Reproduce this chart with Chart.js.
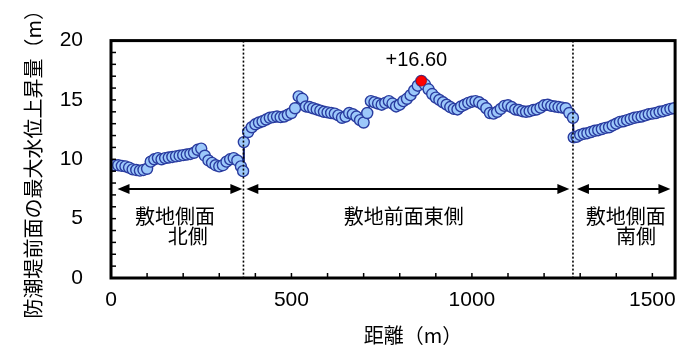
<!DOCTYPE html>
<html>
<head>
<meta charset="utf-8">
<script src="https://cdn.jsdelivr.net/npm/chart.js@4.4.0/dist/chart.umd.min.js"></script>
<style>
  html, body { margin: 0; padding: 0; background: #fff; }
</style>
</head>
<body>
<canvas id="mycanvas" width="682" height="350"></canvas>
<script>
// distance along the seawall (m)
var distances = [
  0, 10, 20, 30, 40, 50, 60, 70, 80, 90, 100, 110, 120, 130, 140, 150, 160, 170, 180, 190,
  200, 210, 220, 230, 240, 250, 260, 270, 280, 290, 300, 310, 320, 330, 340, 350, 360, 366,
  368, 380, 390, 400, 410, 420, 430, 440, 450, 460, 470, 480, 490, 500, 510, 520, 530, 540,
  550, 560, 570, 580, 590, 600, 610, 620, 630, 640, 650, 660, 670, 680, 690, 700, 710, 720,
  730, 740, 750, 760, 770, 780, 790, 800, 810, 820, 830, 840, 850, 860, 870, 880, 890, 900,
  910, 920, 930, 940, 950, 960, 970, 980, 990, 1000, 1010, 1020, 1030, 1040, 1050, 1060,
  1070, 1080, 1090, 1100, 1110, 1120, 1130, 1140, 1150, 1160, 1170, 1180, 1190, 1200, 1210,
  1220, 1230, 1240, 1250, 1260, 1270, 1280, 1282, 1290, 1300, 1310, 1320, 1330, 1340, 1350,
  1360, 1370, 1380, 1390, 1400, 1410, 1420, 1430, 1440, 1450, 1460, 1470, 1480, 1490, 1500,
  1510, 1520, 1530, 1540, 1550, 1560
];
// max water level rise in front of the seawall (m)
var riseValues = [
  9.45, 9.5, 9.5, 9.45, 9.4, 9.3, 9.15, 9.1, 9.05, 9.1, 9.2, 9.8, 10.0, 10.1, 10.0, 10.1, 10.15, 10.2, 10.25, 10.3,
  10.35, 10.4, 10.45, 10.55, 10.8, 10.9, 10.3, 9.9, 9.7, 9.5, 9.4, 9.5, 9.8, 10.0, 10.1, 9.9, 9.4, 9.0,
  11.45, 12.3, 12.7, 12.95, 13.1, 13.2, 13.35, 13.5, 13.55, 13.6, 13.55, 13.6, 13.75, 13.9, 14.3, 15.3, 15.1, 14.45,
  14.4, 14.3, 14.2, 14.1, 14.0, 13.95, 13.9, 13.85, 13.7, 13.5, 13.6, 13.9, 13.8, 13.6, 13.3, 13.1, 13.9, 14.9,
  14.8, 14.7, 14.6, 14.75, 14.9, 14.7, 14.45, 14.6, 14.9, 15.1, 15.4, 15.8, 16.2, 16.6, 16.3, 15.9, 15.5, 15.2,
  15.0, 14.8, 14.6, 14.4, 14.25, 14.2, 14.45, 14.6, 14.75, 14.85, 14.9, 14.8, 14.6, 14.3, 13.9, 13.85,
  14.0, 14.25, 14.5, 14.55, 14.4, 14.2, 14.15, 14.05, 14.0, 14.05, 14.15, 14.2, 14.35, 14.55, 14.6,
  14.5, 14.45, 14.4, 14.35, 14.3, 13.9, 13.5, 11.85, 11.9, 12.05, 12.15, 12.2, 12.3, 12.4, 12.45,
  12.55, 12.65, 12.7, 12.85, 13.0, 13.15, 13.2, 13.3, 13.4, 13.5, 13.55, 13.6, 13.7, 13.8, 13.85,
  13.9, 14.0, 14.05, 14.15, 14.25, 14.3
];
var peakX = [860];
var peakY = [16.6];
var peakLabel = '+16.60';

var xTickValues = [0, 500, 1000, 1500];
var yTickValues = [0, 5, 10, 15, 20];

// section boundaries (m) and section labels
var boundaries = [367, 1280];
var sectionArrows = [[18, 364], [375, 1270], [1291, 1550]];
var sectionLabels = [
  { text: '敷地側面', x: 177, y: 5.15 },
  { text: '北側', x: 213, y: 3.5 },
  { text: '敷地前面東側', x: 811, y: 5.15 },
  { text: '敷地側面', x: 1426, y: 5.15 },
  { text: '南側', x: 1455, y: 3.5 }
];
var arrowLevel = 7.5;

var xMin = 0, xMax = 1563, yMin = 0, yMax = 20;
var numFont = "'Liberation Sans', sans-serif";
var jpFont = "'Noto Sans CJK JP', sans-serif";

var points = [];
for (var i in distances) {
  points.push({ x: distances[i], y: riseValues[i] });
}
var peakPoints = [{ x: peakX[0], y: peakY[0] }];

function drawHead(ctx, x, y, dir) {
  ctx.beginPath();
  ctx.moveTo(x, y);
  ctx.lineTo(x + dir * 12, y - 5);
  ctx.lineTo(x + dir * 12, y + 5);
  ctx.closePath();
  ctx.fill();
}

var extras = {
  id: 'extras',
  afterDatasetsDraw: function (chart) {
    var ctx = chart.ctx;
    var xs = chart.scales.x, ys = chart.scales.y;
    var a = chart.chartArea;
    ctx.save();

    // dotted section boundaries
    ctx.strokeStyle = '#000';
    ctx.lineWidth = 1.6;
    ctx.setLineDash([2, 2]);
    boundaries.forEach(function (b) {
      var px = xs.getPixelForValue(b);
      ctx.beginPath();
      ctx.moveTo(px, a.top);
      ctx.lineTo(px, a.bottom);
      ctx.stroke();
    });
    ctx.setLineDash([]);

    // arrows
    ctx.fillStyle = '#000';
    ctx.lineWidth = 2;
    var ay = ys.getPixelForValue(arrowLevel);
    sectionArrows.forEach(function (s) {
      var x1 = xs.getPixelForValue(s[0]), x2 = xs.getPixelForValue(s[1]);
      ctx.beginPath();
      ctx.moveTo(x1 + 6, ay);
      ctx.lineTo(x2 - 6, ay);
      ctx.stroke();
      drawHead(ctx, x1, ay, 1);
      drawHead(ctx, x2, ay, -1);
    });

    // section labels
    ctx.font = '20px ' + jpFont;
    ctx.textAlign = 'center';
    ctx.textBaseline = 'middle';
    sectionLabels.forEach(function (l) {
      ctx.fillText(l.text, xs.getPixelForValue(l.x), ys.getPixelForValue(l.y));
    });

    // peak label
    ctx.font = '20px ' + numFont;
    ctx.fillText(peakLabel, xs.getPixelForValue(peakX[0]) - 5, ys.getPixelForValue(peakY[0]) - 20);

    // inward minor ticks
    ctx.lineWidth = 1.5;
    for (var v = yMin; v <= yMax; v++) {
      var py = ys.getPixelForValue(v);
      ctx.beginPath();
      ctx.moveTo(a.left, py);
      ctx.lineTo(a.left + 5, py);
      ctx.stroke();
    }
    for (var d = 100; d < xMax; d += 100) {
      var px2 = xs.getPixelForValue(d);
      ctx.beginPath();
      ctx.moveTo(px2, a.bottom);
      ctx.lineTo(px2, a.bottom - 5);
      ctx.stroke();
    }

    // frame
    ctx.lineWidth = 3;
    ctx.strokeRect(a.left, a.top, a.right - a.left, a.bottom - a.top);

    // x axis title
    ctx.font = '20px ' + jpFont;
    ctx.fillText('距離（m）', 413, 335);
    ctx.restore();
  }
};

var ctx = document.getElementById('mycanvas');
var chart = new Chart(ctx, {
  type: 'line',
  data: {
    datasets: [{
      label: 'peak',
      data: peakPoints,
      showLine: false,
      pointRadius: 5,
      pointBackgroundColor: '#ff0000',
      pointBorderColor: '#cc0000',
      pointBorderWidth: 1,
      order: 0
    }, {
      label: '最大水位上昇量',
      data: points,
      borderColor: '#0a1a70',
      borderWidth: 2,
      pointRadius: 5.5,
      pointBackgroundColor: '#9cc8fa',
      pointBorderColor: '#2a3ca0',
      pointBorderWidth: 1.4,
      tension: 0,
      order: 1
    }]
  },
  options: {
    responsive: false,
    animation: false,
    layout: { padding: { top: 34, right: 4, left: 0, bottom: 0 } },
    plugins: { legend: { display: false }, tooltip: { enabled: false } },
    scales: {
      x: {
        type: 'linear',
        min: xMin,
        max: xMax,
        grid: { display: false, drawTicks: false },
        border: { display: false },
        afterBuildTicks: function (scale) {
          scale.ticks = xTickValues.map(function (v) { return { value: v }; });
        },
        ticks: {
          padding: 10,
          color: '#000',
          font: { family: numFont, size: 21 },
          maxRotation: 0,
          autoSkip: false,
          callback: function (v) { return String(v); }
        },
        afterFit: function (scale) {
          scale.height = 72;
          scale.paddingLeft = 0;
          scale.paddingRight = 0;
        }
      },
      y: {
        min: yMin,
        max: yMax,
        grid: { display: false, drawTicks: false },
        border: { display: false },
        afterBuildTicks: function (scale) {
          scale.ticks = yTickValues.map(function (v) { return { value: v }; });
        },
        ticks: {
          padding: 28,
          color: '#000',
          font: { family: numFont, size: 21 }
        },
        title: {
          display: true,
          text: '防潮堤前面の最大水位上昇量（m）',
          color: '#000',
          font: { family: jpFont, size: 20 },
          padding: { top: 21, bottom: 0 }
        },
        afterFit: function (scale) { scale.width = 111; }
      }
    }
  },
  plugins: [extras]
});
</script>
</body>
</html>
